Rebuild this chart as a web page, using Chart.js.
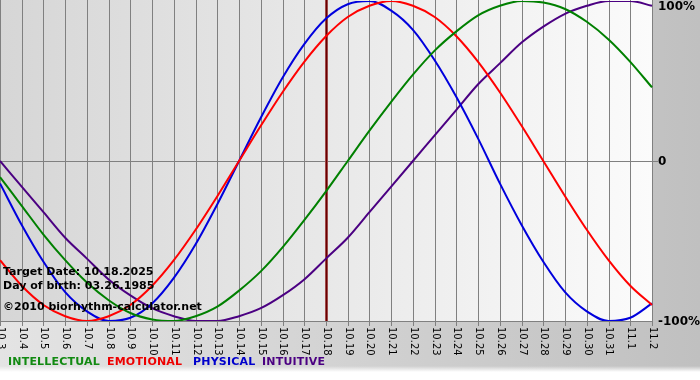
<!DOCTYPE html>
<html>
<head>
<meta charset="utf-8">
<script src="https://cdn.jsdelivr.net/npm/chart.js@4/dist/chart.umd.min.js"></script>
<style>
  html, body { margin: 0; padding: 0; background: #ffffff; }
  #wrap { width: 700px; height: 380px; }
</style>
</head>
<body>
<div id="wrap"><canvas id="c" width="700" height="380"></canvas></div>
<script>
// ---- Data ----
const dayLabels = ["10.3","10.4","10.5","10.6","10.7","10.8","10.9","10.10","10.11","10.12","10.13","10.14","10.15","10.16","10.17","10.18","10.19","10.20","10.21","10.22","10.23","10.24","10.25","10.26","10.27","10.28","10.29","10.30","10.31","11.1","11.2"];
const intellectual = [-0.10,-0.28,-0.46,-0.62,-0.76,-0.87,-0.95,-0.99,-1.00,-0.97,-0.91,-0.81,-0.69,-0.54,-0.37,-0.19,0.00,0.19,0.37,0.54,0.69,0.81,0.91,0.97,1.00,0.99,0.95,0.87,0.76,0.62,0.46];
const emotional = [-0.62,-0.78,-0.90,-0.97,-1.00,-0.97,-0.90,-0.78,-0.62,-0.43,-0.22,0.00,0.22,0.43,0.62,0.78,0.90,0.97,1.00,0.97,0.90,0.78,0.62,0.43,0.22,0.00,-0.22,-0.43,-0.62,-0.78,-0.90];
const physical = [-0.14,-0.40,-0.63,-0.82,-0.94,-1.00,-0.98,-0.89,-0.73,-0.52,-0.27,0.00,0.27,0.52,0.73,0.89,0.98,1.00,0.94,0.82,0.63,0.40,0.14,-0.14,-0.40,-0.63,-0.82,-0.94,-1.00,-0.98,-0.89];
const intuitive = [0.00,-0.16,-0.32,-0.48,-0.61,-0.74,-0.84,-0.92,-0.97,-1.00,-1.00,-0.97,-0.92,-0.84,-0.74,-0.61,-0.48,-0.32,-0.16,0.00,0.16,0.32,0.48,0.61,0.74,0.84,0.92,0.97,1.00,1.00,0.97];
const yTickValues = [1, 0, -1];
const yTickLabels = ["100%", "0", "-100%"];
const targetLabel = "10.18";
const infoLines = ["Target Date: 10.18.2025", "Day of birth: 03.26.1985", "\u00A92010 biorhythm-calculator.net"];
const seriesNames = ["INTELLECTUAL", "EMOTIONAL", "PHYSICAL", "INTUITIVE"];
const seriesColors = ["#008000", "#ff0000", "#0000dd", "#4b0082"];
const legendColors = ["#128a12", "#ee0000", "#0000cc", "#4b0082"];

const bgPlugin = {
  id: 'bg',
  beforeDraw(chart) {
    const ctx = chart.ctx, W = chart.width, H = chart.height, a = chart.chartArea;
    ctx.save();
    let g = ctx.createLinearGradient(0, 0, W, 0);
    g.addColorStop(0, '#e4e4e4');
    g.addColorStop(1, '#c0c0c0');
    ctx.fillStyle = g;
    ctx.fillRect(0, 0, W, H);
    let g2 = ctx.createLinearGradient(0, 366, 0, 372);
    g2.addColorStop(0, 'rgba(255,255,255,0)');
    g2.addColorStop(1, 'rgba(255,255,255,1)');
    ctx.fillStyle = g2;
    ctx.fillRect(0, 366, W, H - 366);
    // plot area
    let g3 = ctx.createLinearGradient(a.left, 0, a.right, 0);
    g3.addColorStop(0, '#d6d6d6');
    g3.addColorStop(1, '#fbfbfb');
    ctx.fillStyle = g3;
    ctx.fillRect(a.left, a.top - 1, a.right - a.left, a.bottom - a.top + 1);
    // grid
    const xs = chart.scales.x, ys = chart.scales.y;
    ctx.strokeStyle = '#808080';
    ctx.lineWidth = 1;
    ctx.beginPath();
    dayLabels.forEach((l, i) => {
      const x = Math.round(xs.getPixelForValue(i)) + 0.5;
      ctx.moveTo(x, a.top - 1);
      ctx.lineTo(x, a.bottom + 5);
    });
    const y0 = Math.round(ys.getPixelForValue(0)) + 0.5;
    ctx.moveTo(a.left, y0); ctx.lineTo(a.right + 6, y0);
    const yb = Math.round(ys.getPixelForValue(-1)) + 0.5;
    ctx.moveTo(a.left, yb); ctx.lineTo(a.right + 1, yb);
    ctx.stroke();
    // target line
    const xt = Math.round(xs.getPixelForValue(dayLabels.indexOf(targetLabel))) + 0.5;
    ctx.strokeStyle = '#a04848';
    ctx.lineWidth = 3;
    ctx.beginPath(); ctx.moveTo(xt, a.top - 1); ctx.lineTo(xt, a.bottom); ctx.stroke();
    ctx.strokeStyle = '#680000';
    ctx.lineWidth = 1;
    ctx.beginPath(); ctx.moveTo(xt, a.top - 1); ctx.lineTo(xt, a.bottom); ctx.stroke();
    ctx.restore();
  },
  afterDraw(chart) {
    const ctx = chart.ctx, a = chart.chartArea;
    const xs = chart.scales.x, ys = chart.scales.y;
    ctx.save();
    // x labels rotated clockwise
    ctx.fillStyle = '#000';
    ctx.font = '10px "DejaVu Sans"';
    ctx.textAlign = 'left';
    ctx.textBaseline = 'middle';
    dayLabels.forEach((l, i) => {
      const x = xs.getPixelForValue(i);
      ctx.save();
      ctx.translate(x + 0.5, a.bottom + 6);
      ctx.rotate(Math.PI / 2);
      ctx.fillText(l, 0, 0);
      ctx.restore();
    });
    // y labels
    ctx.font = 'bold 12px "DejaVu Sans"';
    yTickValues.forEach((v, i) => {
      let y = ys.getPixelForValue(v);
      y = Math.max(7, Math.min(y + 1, 322));
      ctx.fillText(yTickLabels[i], 658, y);
    });
    // info lines
    ctx.font = 'bold 11px "DejaVu Sans"';
    ctx.fillStyle = '#000';
    const infoY = [272, 286, 307];
    infoLines.forEach((t, i) => ctx.fillText(t, 3, infoY[i]));
    // legend
    const legendX = [8, 107, 193, 262];
    ctx.letterSpacing = '0.2px';
    seriesNames.forEach((n, i) => {
      ctx.fillStyle = legendColors[i];
      ctx.fillText(n, legendX[i], 362);
    });
    ctx.restore();
  }
};

const mk = (label, data, color) => ({
  label, data, borderColor: color, backgroundColor: color,
  borderWidth: 2, pointRadius: 0, cubicInterpolationMode: 'monotone', fill: false
});

new Chart(document.getElementById('c'), {
  type: 'line',
  data: {
    labels: dayLabels,
    datasets: [
      mk(seriesNames[0], intellectual, seriesColors[0]),
      mk(seriesNames[1], emotional, seriesColors[1]),
      mk(seriesNames[2], physical, seriesColors[2]),
      mk(seriesNames[3], intuitive, seriesColors[3])
    ]
  },
  options: {
    responsive: false,
    animation: false,
    layout: { padding: { left: 0, right: 48, top: 1, bottom: 59 } },
    plugins: { legend: { display: false }, tooltip: { enabled: false } },
    scales: {
      x: { display: false },
      y: { display: false, min: -1, max: 1 }
    }
  },
  plugins: [bgPlugin]
});
</script>
</body>
</html>
